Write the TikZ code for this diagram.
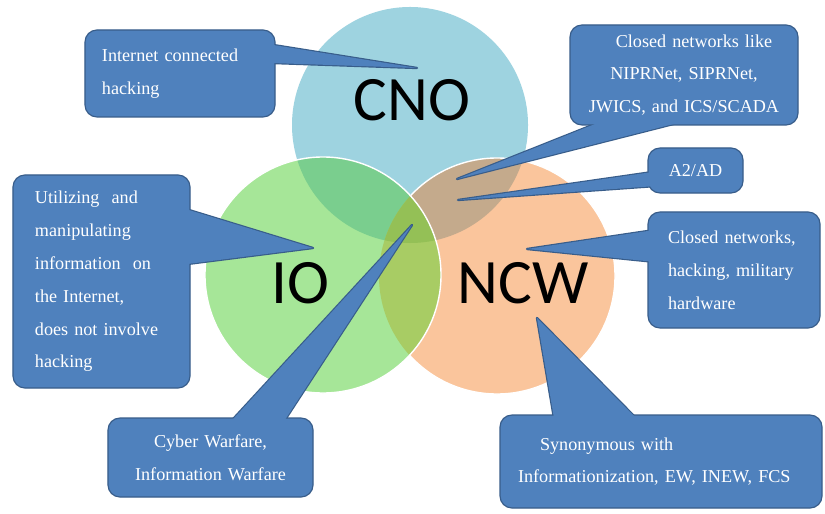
\documentclass[tikz,border=0pt]{standalone}
\usepackage{fontspec}
\setmainfont{Liberation Serif}
\newfontfamily\vennfont{Carlito}
\usetikzlibrary{calc}

\definecolor{cnoblue}{RGB}{158,211,224}
\definecolor{iogreen}{RGB}{166,230,152}
\definecolor{ncworange}{RGB}{250,197,156}
\definecolor{cnoio}{RGB}{122,206,142}
\definecolor{cnoncw}{RGB}{196,170,140}
\definecolor{ioncw}{RGB}{168,204,100}
\definecolor{allthree}{RGB}{148,192,86}
\definecolor{boxblue}{RGB}{79,129,189}
\definecolor{boxedge}{RGB}{56,93,138}

\pgfdeclarelayer{venn}
\pgfdeclarelayer{pointeredge}
\pgfdeclarelayer{pointerfill}
\pgfsetlayers{venn,pointeredge,main,pointerfill}

\begin{document}
\begin{tikzpicture}[
    x=0.03cm, y=-0.03cm,
    venn/.style={font=\vennfont\fontsize{54}{60}\selectfont, text=black},
    callout/.style={rectangle, rounded corners=0.36cm, fill=boxblue, draw=boxedge, line width=1pt, text=white, font=\fontsize{15.5}{28}\selectfont, inner ysep=0pt},
    pointeredge/.style={draw=boxedge, line width=2pt, line join=round},
    pointerfill/.style={fill=boxblue},
    rim/.style={draw=white, line width=1.2pt}
]
    \useasboundingbox (0,0) rectangle (825,514);

    % Circles
    \coordinate (cno) at (410,125);
    \coordinate (io) at (323,275);
    \coordinate (ncw) at (497,276);
    \begin{pgfonlayer}{venn}
        \fill[white] (0,0) rectangle (825,514);
        \fill[cnoblue] (cno) circle (3.54cm);
        \fill[ncworange] (ncw) circle (3.54cm);
        \begin{scope}
            \clip (cno) circle (3.54cm);
            \fill[cnoncw] (ncw) circle (3.54cm);
        \end{scope}
        \draw[rim] (ncw) circle (3.54cm);
        \fill[iogreen] (io) circle (3.54cm);
        \begin{scope}
            \clip (io) circle (3.54cm);
            \fill[cnoio] (cno) circle (3.54cm);
            \fill[ioncw] (ncw) circle (3.54cm);
            \clip (cno) circle (3.54cm);
            \fill[allthree] (ncw) circle (3.54cm);
        \end{scope}
        \draw[rim] (io) circle (3.54cm);

        \node[venn] (cnolabel) at (412,100) {CNO};
        \node[venn] (iolabel) at (300,283) {IO};
        \node[venn] (ncwlabel) at (523,283) {NCW};
    \end{pgfonlayer}

    % Callouts
    \node[callout, text width=4.68cm, inner xsep=0.51cm, minimum height=2.61cm, align=left] (hack) at (180,73.5) {Internet connected\\hacking};
    \node[callout, text width=6.24cm, inner xsep=0.3cm, minimum height=3cm, align=center] (closednet) at (684,75) {\hspace*{0.6cm}Closed networks like\\NIPRNet, SIPRNet,\\JWICS, and ICS/SCADA};
    \node[callout, minimum width=2.85cm, minimum height=1.35cm] (atwoad) at (695.5,170.5) {A2/AD};
    \node[callout, text width=3.96cm, inner xsep=0.6cm, minimum height=3.48cm, align=left] (closedhw) at (734,270) {Closed networks,\\hacking, military\\hardware};
    \node[callout, text width=3.99cm, inner xsep=0.66cm, minimum height=6.39cm, align=left] (infoops) at (101.5,281.5) {Utilizing\ \ and\\manipulating\\information\ \ on\\the Internet,\\does not involve\\hacking};
    \node[callout, text width=5.55cm, inner xsep=0.3cm, minimum height=2.37cm, align=center] (cyberwar) at (210.5,457.5) {Cyber Warfare,\\Information Warfare};
    \node[callout, text width=8.58cm, inner xsep=0.54cm, minimum height=2.79cm, align=left] (synonym) at (661,461.5) {\hspace*{0.66cm}Synonymous with\\Informationization, EW, INEW, FCS};

    % Pointer tips
    \coordinate (hack-tip) at (417,68);
    \coordinate (closednet-tip) at (457,179);
    \coordinate (atwoad-tip) at (458,200);
    \coordinate (closedhw-tip) at (527,249);
    \coordinate (infoops-tip) at (313,248);
    \coordinate (cyberwar-tip) at (412,225);
    \coordinate (synonym-tip) at (537,318);

    % Pointers
    \foreach \cname/\from/\to/\fa/\fb/\inx/\iny in {
        hack/north east/south east/0.17/0.38/-6/0,
        closednet/south west/south east/0.16/0.53/0/-6,
        atwoad/north west/south west/0.53/0.84/6/0,
        closedhw/north west/south west/0.16/0.43/6/0,
        infoops/north east/south east/0.16/0.42/-6/0,
        cyberwar/north west/north east/0.59/0.85/0/6,
        synonym/north west/north east/0.17/0.43/0/6}
    {
        \begin{pgfonlayer}{pointeredge}
            \draw[pointeredge] ($(\cname.\from)!\fa!(\cname.\to)+(\inx,\iny)$) -- (\cname-tip) -- ($(\cname.\from)!\fb!(\cname.\to)+(\inx,\iny)$) -- cycle;
        \end{pgfonlayer}
        \begin{pgfonlayer}{pointerfill}
            \fill[pointerfill] ($(\cname.\from)!\fa!(\cname.\to)+(\inx,\iny)$) -- (\cname-tip) -- ($(\cname.\from)!\fb!(\cname.\to)+(\inx,\iny)$) -- cycle;
        \end{pgfonlayer}
    }
\end{tikzpicture}
\end{document}
